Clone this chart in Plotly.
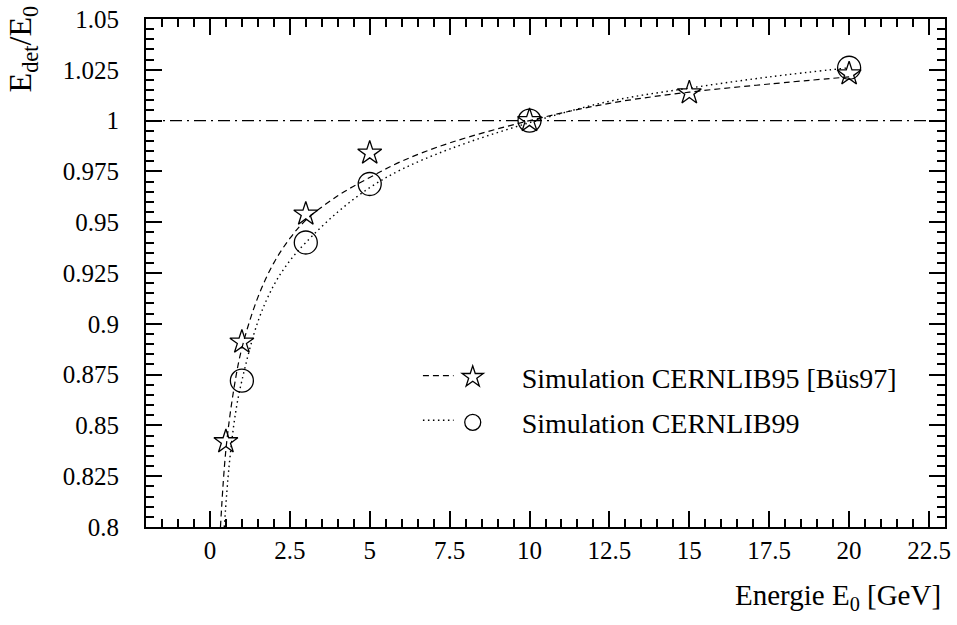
import plotly.graph_objects as go

# Measured response points
e95 = [0.5, 1, 3, 5, 10, 15, 20]
r95 = [0.842, 0.891, 0.954, 0.984, 1.000, 1.0137, 1.023]
e99 = [1, 3, 5, 10, 20]
r99 = [0.872, 0.940, 0.9688, 1.000, 1.026]

# Fitted response curves
fit95_e = [0.33, 0.5, 0.75, 1.0, 1.5, 2.0, 2.5, 3.0, 4.0, 5.0, 6.0, 7.5, 10.0, 12.5, 15.0, 17.5, 20.0]
fit95_r = [0.800, 0.838, 0.868, 0.888, 0.913, 0.930, 0.942, 0.951, 0.963, 0.972, 0.980,
           0.989, 1.000, 1.0085, 1.014, 1.018, 1.0215]
fit99_e = [0.45, 0.6, 0.8, 1.0, 1.5, 2.0, 2.5, 3.0, 4.0, 5.0, 6.0, 7.5, 10.0, 12.5, 15.0, 17.5, 20.0]
fit99_r = [0.800, 0.830, 0.856, 0.872, 0.901, 0.919, 0.931, 0.940, 0.955, 0.967, 0.976,
           0.986, 0.999, 1.0095, 1.016, 1.0215, 1.026]

# axis ranges and the unity reference level
x_range = [-2, 23]
y_range = [0.8, 1.05]
ref_level = 1.0

# axis ticks: major step and minor step
x_major, x_minor = 2.5, 0.5
y_major, y_minor = 0.025, 0.005

label95 = "Simulation CERNLIB95 [Büs97]"
label99 = "Simulation CERNLIB99"

FONT = "Liberation Serif, Times New Roman, serif"

fig = go.Figure()

fig.add_trace(go.Scatter(x=x_range, y=[ref_level, ref_level], mode="lines",
                         line=dict(color="black", width=1.3, dash="12px,5px,2px,5px"),
                         showlegend=False, hoverinfo="skip"))
fig.add_trace(go.Scatter(x=fit95_e, y=fit95_r, mode="lines", line_shape="spline",
                         line=dict(color="black", width=1.2, dash="6px,4px"),
                         showlegend=False, hoverinfo="skip"))
fig.add_trace(go.Scatter(x=fit99_e, y=fit99_r, mode="lines", line_shape="spline",
                         line=dict(color="black", width=1.4, dash="1.5px,3.5px"),
                         showlegend=False, hoverinfo="skip"))
fig.add_trace(go.Scatter(x=e95, y=r95, mode="markers", name=label95, legendgroup="a",
                         marker=dict(symbol="star-open", size=18, color="black",
                                     line=dict(width=1.3, color="black"))))
fig.add_trace(go.Scatter(x=e99, y=r99, mode="markers", name=label99, legendgroup="b",
                         marker=dict(symbol="circle-open", size=23, color="black",
                                     line=dict(width=1.3, color="black"))))

# legend line samples, drawn left of the legend symbols
fig.add_shape(type="line", xref="paper", yref="paper", x0=0.3466, x1=0.385, y0=0.298, y1=0.298,
              line=dict(color="black", width=1.2, dash="6px,4px"))
fig.add_shape(type="line", xref="paper", yref="paper", x0=0.3466, x1=0.385, y0=0.21, y1=0.21,
              line=dict(color="black", width=1.4, dash="1.5px,3.5px"))

fig.update_xaxes(range=x_range, tickmode="linear", tick0=0, dtick=x_major, showline=True,
                 linecolor="black", linewidth=2, mirror="ticks", ticks="inside",
                 tickcolor="black", tickwidth=1.5, ticklen=16,
                 tickfont=dict(family=FONT, size=25, color="black"),
                 minor=dict(tickmode="linear", tick0=0, dtick=x_minor, ticklen=8, tickwidth=1.5,
                            tickcolor="black", ticks="inside", showgrid=False))
fig.update_yaxes(range=y_range, tickmode="linear", tick0=0.8, dtick=y_major, showline=True,
                 linecolor="black", linewidth=2, mirror="ticks", ticks="inside",
                 tickcolor="black", tickwidth=1.5, ticklen=16,
                 tickfont=dict(family=FONT, size=25, color="black"),
                 minor=dict(tickmode="linear", tick0=0.8, dtick=y_minor, ticklen=8, tickwidth=1.5,
                            tickcolor="black", ticks="inside", showgrid=False),
                 ticklabelstandoff=20)

fig.add_annotation(text="E<sub>det</sub>/E<sub>0</sub>", xref="paper", yref="paper",
                   x=-0.155, y=1.03, xanchor="center", yanchor="top", textangle=-90,
                   showarrow=False, font=dict(family=FONT, size=32, color="black"))
fig.add_annotation(text="Energie E<sub>0</sub> [GeV]", xref="paper", yref="paper",
                   x=0.997, y=-0.137, xanchor="right", yanchor="middle",
                   showarrow=False, font=dict(family=FONT, size=29, color="black"))

fig.update_layout(
    width=957, height=625,
    margin=dict(l=146, r=6, t=17, b=98),
    plot_bgcolor="white",
    showlegend=True,
    legend=dict(x=0.3476, y=0.344, xanchor="left", yanchor="top", bgcolor="rgba(0,0,0,0)",
                font=dict(family=FONT, size=28, color="black"), itemwidth=88,
                traceorder="grouped", tracegroupgap=6),
)

fig.write_html("out.html")
